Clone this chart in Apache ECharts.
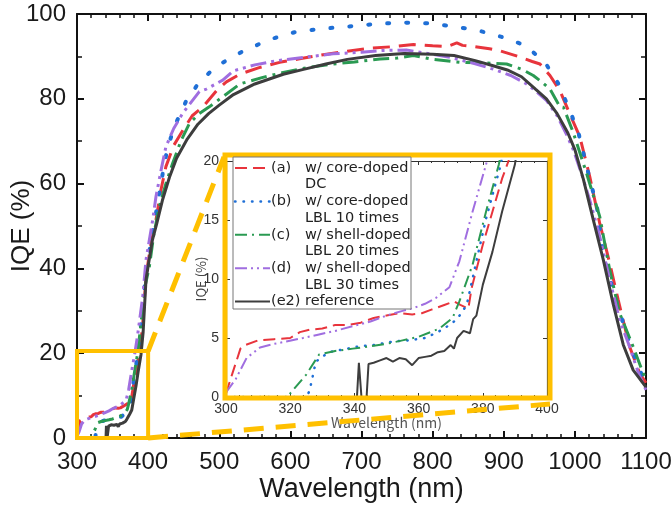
<!DOCTYPE html>
<html lang="en">
<head>
  <meta charset="UTF-8">
  <title>IQE vs wavelength</title>
  <script src="https://cdn.jsdelivr.net/npm/echarts@6/dist/echarts.min.js"></script>
  <style>
    body { margin: 0; background: #fff; }
    #main { width: 672px; height: 505px; }
  </style>
</head>
<body>
  <div id="main"></div>

  <script>
    // (a) w/ core-doped DC
    const wlA = [300,302,304.5,306,310,315,320,323,326,330,334,338,342,346,350,354,358,361,364,368,371,373,375.5,376.5,380,383,386,388,392,397,404,411,418,425,436,449,462,477,496,510,529,555,585,615,646,680,716,745,773,800,820,834,842,860,880,895,920,940,951,965,979,993,1007,1021,1035,1049,1061,1077,1091,1100];
    const iqeA = [0.3,2.0,4.1,4.4,4.8,4.9,5.0,5.5,5.7,5.8,6.1,6.1,6.3,6.7,6.9,7.1,7.0,7.1,7.4,7.8,8.1,7.8,7.5,9.2,12.9,15.7,18.5,20,26,38,46,51.4,58.5,64,69,72.6,76,78.1,81.9,84,85.8,87.3,88.6,89.5,90.4,91.2,92,92.3,92.8,92.5,92.3,93.2,92.6,92.3,91.8,91.3,90,88.8,88.2,85.5,81.9,76.4,71,61.6,50.6,41.2,32.5,21.5,15.3,13];
    // (b) w/ core-doped LBL 10 times
    const wlB = [300,325,326,328,332,336,341.6,346,352,357,362,366,369.6,372,375,378,381,385.6,390,397,404,411,419,427.5,439,453,472,497,531,569,606,642,679,717,754,794,831,862,897,930,958,977,993,1005,1021,1031,1040,1059,1077,1091,1100];
    const iqeB = [0,0,0.5,3.0,3.8,4.0,4.3,4.4,4.7,4.8,5.0,5.5,6.1,6.6,7.8,11.5,15.1,19.7,27,38.8,46.5,53,61,68.7,74.2,79.3,84,87.8,91,93.9,95.7,96.5,97,97.6,98,97.8,97,96.2,94.6,92.6,88.6,83.5,77.2,72,61,54.6,43,31.8,22.3,16,13];
    // (c) w/ shell-doped LBL 20 times
    const wlC = [300,319,320,325,329,334,339.5,345,350,355,360,366.5,370.6,372.7,376.8,381,385,390,396,401.7,408,415.7,425,434.5,446,458,472,486,505,529,560,590,625,660,690,726,750,773,800,838,870,904,925,941.5,953,965,979,984,998,1016.5,1035,1049,1063,1082,1096,1100];
    const iqeC = [0,0,0.3,1.9,3.6,3.9,4.1,4.3,4.5,4.8,5.1,5.8,6.7,8.1,11.2,15.7,19.7,27,36,40.4,48,54.6,60,64.8,70,74.2,76.5,78.1,80.5,83.5,85,86.2,87.4,88.2,88.7,89.4,89.6,90.2,89.3,88.6,88.5,88.2,87,85.5,84,82.3,78.1,78,71.9,62.4,52.2,39.6,29.4,21.5,15.3,14];
    // (d) w/ shell-doped LBL 30 times
    const wlD = [300,303,306.4,310.6,315,318.8,324,329,334,339.5,345,350,355,358,362,365.4,369.6,372.7,376.8,381,385,392.4,397,406.4,411,418,425,436,448.6,472,482,505,520,550,581,620,660,700,731,763,790,824,855,885,910,932,946,960,975,988.5,998,1010,1021,1035,1049,1063,1077,1090,1100];
    const iqeD = [0.4,1.5,3.3,4.2,4.5,4.7,5.0,5.3,5.6,6.0,6.4,6.9,7.3,7.5,7.9,8.4,9.3,11.5,15.7,19.7,24,33.3,42,51.4,56.9,63,68.7,73,76.6,81.7,82.3,84.4,86.6,88,89,89.8,90.6,91,91.4,91.5,90.8,89.8,88.5,87,85.5,83.5,81.7,79.6,76,71.5,67.9,62,56.1,47.5,37.3,27.8,21.5,15,11.3];
    // (e2) reference
    const wlE = [300,340.8,341.4,342.2,343.8,344.4,346,348,350,352,354,356,358,360,362,364,366,368,370,371,372,374,376,377,378,380,383,386,390,393,397,400,406,412,420,430,440,455,470,485,500,520,550,590,620,650,680,720,760,800,830,860,885,905,925,945,960,975,990,1000,1012,1026,1040,1054,1068,1082,1100];
    const iqeE = [0,0,2.9,0,0,2.8,2.9,3.1,3.3,3.0,3.3,3.2,2.7,3.3,3.4,3.5,3.8,3.9,4.4,4.1,5.0,5.6,5.4,6.6,6.9,9.5,12.3,15.7,19.7,25,37.3,40.5,46.7,50.5,56,61.5,66,70.5,74,76.5,78.5,81,83.5,85.8,87,88.2,89.3,90.2,90.7,90.5,90.2,89,87.8,86.8,85.2,82.2,80,76.5,72,68,61,51.4,42,31.5,22,16,12];

    const tags = ['(a)', '(b)', '(c)', '(d)', '(e2)'];
    const descLine1 = ['w/ core-doped', 'w/ core-doped', 'w/ shell-doped', 'w/ shell-doped', 'reference'];
    const descLine2 = ['DC', 'LBL 10 times', 'LBL 20 times', 'LBL 30 times', ''];

    const mainTicksX = [300, 1100, 100];
    const mainTicksY = [0, 100, 20];
    const insetTicksX = [300, 400, 20];
    const insetTicksY = [0, 20, 5];
    const zoomBox = [300, 400, 0, 20.5];

    const curves = [
      { wl: wlA, iqe: iqeA, color: '#e8343c', dash: [17, 9], dashIn: [12, 6] },
      { wl: wlB, iqe: iqeB, color: '#1f6fd6', dash: [2, 17], dashIn: [0.5, 8], cap: 'round', wMain: 4 },
      { wl: wlC, iqe: iqeC, color: '#2a9a52', dash: [16, 6, 3, 6], dashIn: [12, 5, 2, 5] },
      { wl: wlD, iqe: iqeD, color: '#a06ee0', dash: [16, 5, 3, 5, 3, 5], dashIn: [12, 4, 2, 4, 2, 4] },
      { wl: wlE, iqe: iqeE, color: '#3d3d3d', dash: 'solid', dashIn: 'solid' }
    ];

    const ORANGE = '#ffc000';
    const chart = echarts.init(document.getElementById('main'));

    const series = [];
    curves.forEach((c, i) => {
      const pts = c.wl.map((w, k) => [w, c.iqe[k]]);
      series.push({
        name: tags[i], type: 'line', xAxisIndex: 0, yAxisIndex: 0, data: pts,
        symbol: 'none', clip: true, z: 3,
        lineStyle: { color: c.color, width: c.wMain || 3, type: c.dash, cap: c.cap || 'butt' }
      });
      series.push({
        name: tags[i] + ' inset', type: 'line', xAxisIndex: 2, yAxisIndex: 2, data: pts,
        symbol: 'none', clip: true, z: 3,
        lineStyle: { color: c.color, width: c.cap ? 2.5 : 2, type: c.dashIn, cap: c.cap || 'butt' }
      });
    });

    const plain = (v) => String(v);
    const mainLabel = { fontSize: 24, color: '#1a1a1a', fontFamily: 'Liberation Sans', formatter: plain };
    const insetLabel = { fontSize: 14, color: '#333', fontFamily: 'Liberation Sans', formatter: plain };
    const legendFont = { fontSize: 14.5, fill: '#222', fontFamily: 'DejaVu Sans', verticalAlign: 'middle' };

    function mainAxis(ticks, pos, grid, extra) {
      return Object.assign({
        type: 'value', gridIndex: grid, position: pos,
        min: ticks[0], max: ticks[1], interval: ticks[2],
        axisLine: { show: true, onZero: false, lineStyle: { color: '#111', width: 2 } },
        axisTick: { inside: true, length: 7, lineStyle: { color: '#111', width: 2 } },
        minorTick: { show: true, length: 4, lineStyle: { color: '#111', width: 1.5 } },
        splitLine: { show: false },
        axisLabel: { show: false },
        nameMoveOverlap: false
      }, extra);
    }
    function insetAxis(ticks, pos, extra) {
      return Object.assign({
        type: 'value', gridIndex: 1, position: pos,
        min: ticks[0], max: ticks[1], interval: ticks[2],
        axisLine: { show: true, onZero: false, lineStyle: { color: '#333', width: 1.2 } },
        axisTick: { inside: true, length: 4, lineStyle: { color: '#333' } },
        minorTick: { show: false },
        splitLine: { show: false },
        axisLabel: { show: false },
        nameMoveOverlap: false
      }, extra);
    }

    chart.setOption({
      animation: false,
      backgroundColor: '#fff',
      grid: [
        { left: 77, right: 26, top: 14, bottom: 67, containLabel: false, outerBoundsMode: 'none' },
        { left: 226, top: 161, width: 321, height: 236, containLabel: false, outerBoundsMode: 'none' }
      ],
      xAxis: [
        mainAxis(mainTicksX, 'bottom', 0, {
          minorTick: { show: true, splitNumber: 5, length: 4, lineStyle: { color: '#111', width: 1.5 } },
          axisLabel: Object.assign({ margin: 12 }, mainLabel),
          name: 'Wavelength (nm)', nameLocation: 'middle', nameGap: 38,
          nameTextStyle: { fontSize: 27, color: '#1a1a1a', fontFamily: 'Liberation Sans' }
        }),
        mainAxis(mainTicksX, 'top', 0, {
          minorTick: { show: true, splitNumber: 5, length: 4, lineStyle: { color: '#111', width: 1.5 } }
        }),
        insetAxis(insetTicksX, 'bottom', {
          minorTick: { show: true, splitNumber: 5, length: 2, lineStyle: { color: '#333' } },
          axisLabel: Object.assign({ show: true, margin: 5 }, insetLabel),
          name: 'Wavelength (nm)', nameLocation: 'middle', nameGap: 19,
          nameTextStyle: { fontSize: 14, color: '#555', fontFamily: 'Noto Sans CJK JP' }
        }),
        insetAxis(insetTicksX, 'top', {
          minorTick: { show: true, splitNumber: 5, length: 2, lineStyle: { color: '#333' } }
        })
      ],
      yAxis: [
        mainAxis(mainTicksY, 'left', 0, {
          minorTick: { show: true, splitNumber: 2, length: 5, lineStyle: { color: '#111', width: 1.5 } },
          axisLabel: Object.assign({ margin: 11 }, mainLabel),
          name: 'IQE (%)', nameLocation: 'middle', nameGap: 42,
          nameTextStyle: { fontSize: 26, color: '#1a1a1a', fontFamily: 'Liberation Sans' }
        }),
        mainAxis(mainTicksY, 'right', 0, {
          minorTick: { show: true, splitNumber: 2, length: 5, lineStyle: { color: '#111', width: 1.5 } }
        }),
        insetAxis(insetTicksY, 'left', {
          axisLabel: Object.assign({ show: true, margin: 7 }, insetLabel),
          name: 'IQE (%)', nameLocation: 'middle', nameGap: 18,
          nameTextStyle: { fontSize: 13, color: '#444', fontFamily: 'Noto Sans CJK JP' }
        }),
        insetAxis(insetTicksY, 'right', {})
      ],
      series: series
    });

    // zoom box, connectors, inset frame and legend, placed from the axes
    const pm = (v) => chart.convertToPixel({ xAxisIndex: 0, yAxisIndex: 0 }, v);
    const pi = (v) => chart.convertToPixel({ xAxisIndex: 2, yAxisIndex: 2 }, v);
    const b0 = pm([zoomBox[0], zoomBox[2]]);
    const b1 = pm([zoomBox[1], zoomBox[3]]);
    const f0 = pi([insetTicksX[0], insetTicksY[0]]);
    const f1 = pi([insetTicksX[1], insetTicksY[1]]);
    const fl = f0[0] - 1, fr = f1[0] + 3, ft = f1[1] - 6, fb = f0[1] + 1;

    const graphic = [
      { type: 'rect', z: 20, shape: { x: b0[0], y: b1[1], width: b1[0] - b0[0], height: b0[1] - b1[1] },
        style: { fill: null, stroke: ORANGE, lineWidth: 4 } },
      { type: 'line', z: 19, shape: { x1: b1[0], y1: b1[1], x2: fl - 1, y2: ft + 2 },
        style: { stroke: ORANGE, lineWidth: 5, lineDash: [20, 12] } },
      { type: 'line', z: 19, shape: { x1: b1[0], y1: b0[1], x2: fr, y2: fb + 6 },
        style: { stroke: ORANGE, lineWidth: 5, lineDash: [20, 12] } },
      { type: 'rect', z: 20, shape: { x: fl, y: ft, width: fr - fl, height: fb - ft },
        style: { fill: null, stroke: ORANGE, lineWidth: 5 } }
    ];

    const lgX = f0[0] + 7, lgY = f1[1] - 4;
    graphic.push({ type: 'rect', z: 21, shape: { x: lgX, y: lgY, width: 178, height: 152 },
      style: { fill: '#fff', stroke: '#777', lineWidth: 1 } });
    let rowY = lgY + 11;
    curves.forEach((c, i) => {
      graphic.push({ type: 'line', z: 22, shape: { x1: lgX + 2, y1: rowY, x2: lgX + 37, y2: rowY },
        style: { stroke: c.color, lineWidth: c.cap ? 2.5 : 2, lineDash: c.dashIn === 'solid' ? null : c.dashIn, lineCap: c.cap || 'butt' } });
      graphic.push({ type: 'text', z: 22, x: lgX + 38, y: rowY,
        style: Object.assign({ text: tags[i] }, legendFont) });
      graphic.push({ type: 'text', z: 22, x: lgX + 72, y: rowY,
        style: Object.assign({ text: descLine1[i] }, legendFont) });
      if (descLine2[i]) {
        graphic.push({ type: 'text', z: 22, x: lgX + 72, y: rowY + 16.7,
          style: Object.assign({ text: descLine2[i] }, legendFont) });
      }
      rowY += 33.4;
    });

    chart.setOption({ graphic: graphic });
  </script>
</body>
</html>
